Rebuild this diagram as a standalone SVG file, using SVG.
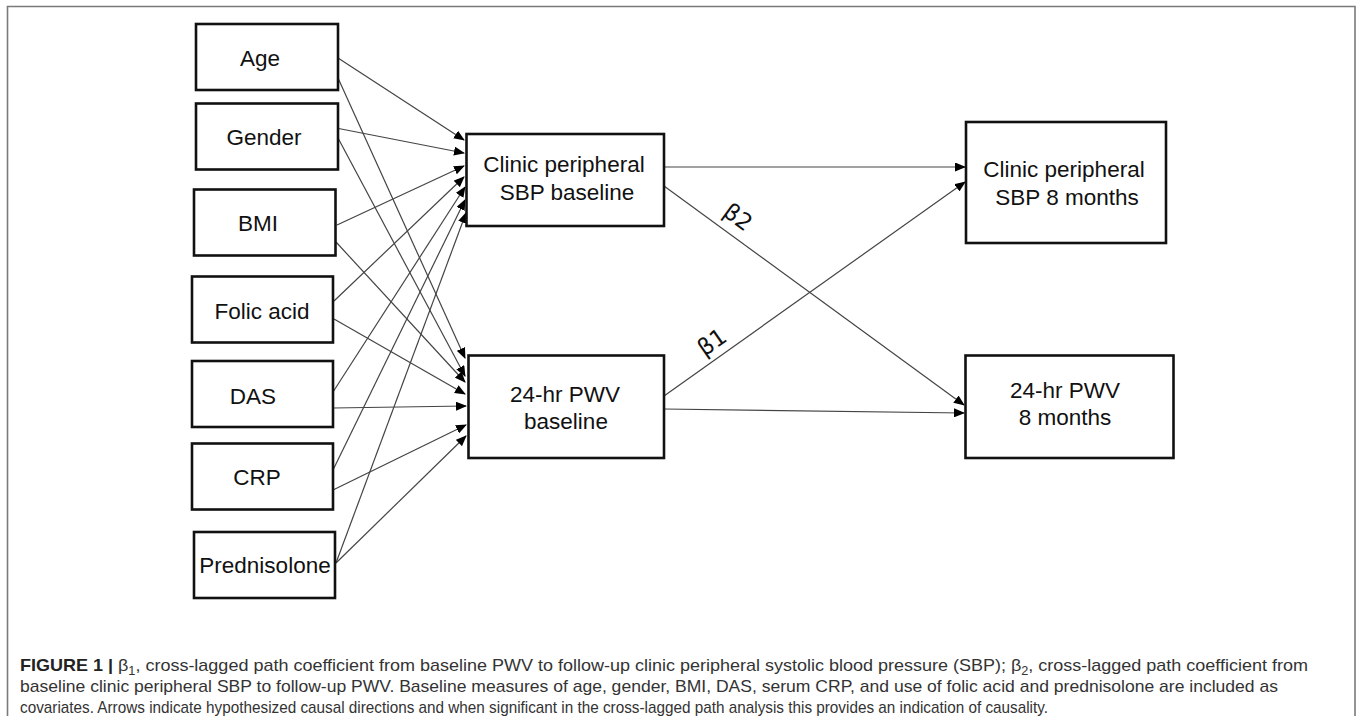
<svg xmlns="http://www.w3.org/2000/svg" width="1357" height="716" viewBox="0 0 1357 716">
<style>
.box{fill:#fff;stroke:#111;stroke-width:2.6}
.lbl{font-family:"Liberation Sans",Arial,sans-serif;font-size:22.5px;fill:#111;text-anchor:middle}
.beta{font-family:"DejaVu Sans","Liberation Sans",sans-serif;font-size:23px;fill:#111;text-anchor:middle}
.cap{font-family:"Liberation Sans Narrow","Liberation Sans",Arial,sans-serif;font-size:17px;fill:#333}
.edge{stroke:#444;stroke-width:1.2;fill:none;marker-end:url(#ah)}
.frame{stroke:#7a7a7a;stroke-width:1.6;fill:none}
</style>
<defs>
<marker id="ah" markerUnits="userSpaceOnUse" markerWidth="11" markerHeight="9" refX="10" refY="4.5" orient="auto">
<path d="M0,0 L11,4.5 L0,9 z" fill="#000"/>
</marker>
</defs>
<rect width="1357" height="716" fill="#fff"/>
<path class="frame" d="M7.5,716 V6.5 H1355 V716"/>

<g id="connectors">
<line class="edge" x1="338" y1="58" x2="464" y2="140"/>
<line class="edge" x1="338" y1="78" x2="465" y2="358"/>
<line class="edge" x1="336" y1="128" x2="464" y2="153"/>
<line class="edge" x1="338" y1="138" x2="465" y2="376"/>
<line class="edge" x1="337" y1="225" x2="464" y2="166"/>
<line class="edge" x1="336" y1="242" x2="465" y2="382"/>
<line class="edge" x1="334" y1="301" x2="464" y2="177"/>
<line class="edge" x1="334" y1="319" x2="465" y2="394"/>
<line class="edge" x1="333" y1="392" x2="465" y2="187"/>
<line class="edge" x1="333" y1="408" x2="466" y2="406"/>
<line class="edge" x1="333" y1="470" x2="465" y2="200"/>
<line class="edge" x1="333" y1="490" x2="466" y2="425"/>
<line class="edge" x1="336" y1="563" x2="466" y2="213"/>
<line class="edge" x1="336" y1="563" x2="466" y2="436"/>
<line class="edge" x1="664" y1="167" x2="965" y2="167"/>
<line class="edge" x1="664" y1="186" x2="964" y2="405"/>
<line class="edge" x1="664" y1="396" x2="965" y2="182"/>
<line class="edge" x1="664" y1="409" x2="964" y2="413"/>
<text class="beta" transform="translate(738,217) rotate(36)" y="8">β2</text>
<text class="beta" transform="translate(712,342) rotate(-35)" y="8">β1</text>
</g>

<g id="age"><rect class="box" x="196" y="24" width="142" height="66"/><text class="lbl" x="260" y="66">Age</text></g>
<g id="gender"><rect class="box" x="196" y="103.5" width="142" height="66"/><text class="lbl" x="264" y="145">Gender</text></g>
<g id="bmi"><rect class="box" x="194" y="189.5" width="141.5" height="66"/><text class="lbl" x="258" y="231">BMI</text></g>
<g id="folic"><rect class="box" x="192" y="276.5" width="141" height="66"/><text class="lbl" x="262" y="319">Folic acid</text></g>
<g id="das"><rect class="box" x="192" y="361" width="141" height="66"/><text class="lbl" x="253" y="404">DAS</text></g>
<g id="crp"><rect class="box" x="192" y="443.5" width="141" height="66"/><text class="lbl" x="257" y="485">CRP</text></g>
<g id="prednisolone"><rect class="box" x="194" y="532" width="141" height="66"/><text class="lbl" x="265" y="573">Prednisolone</text></g>

<g id="sbp-baseline"><rect class="box" x="466.5" y="134" width="197.5" height="92"/><text class="lbl" x="564" y="172">Clinic peripheral</text><text class="lbl" x="567" y="200">SBP baseline</text></g>
<g id="pwv-baseline"><rect class="box" x="468.5" y="355.5" width="195.5" height="102.5"/><text class="lbl" x="565" y="402">24-hr PWV</text><text class="lbl" x="566" y="429">baseline</text></g>
<g id="sbp-8m"><rect class="box" x="966" y="122" width="200" height="121"/><text class="lbl" x="1064" y="177">Clinic peripheral</text><text class="lbl" x="1067" y="205">SBP 8 months</text></g>
<g id="pwv-8m"><rect class="box" x="965.5" y="355.5" width="208" height="102.5"/><text class="lbl" x="1065" y="397.5">24-hr PWV</text><text class="lbl" x="1065" y="425">8 months</text></g>

<g id="caption">
<text class="cap" x="20" y="671" textLength="1288" lengthAdjust="spacingAndGlyphs"><tspan font-weight="bold" fill="#222">FIGURE 1 | </tspan>β<tspan font-size="12" dy="4">1</tspan><tspan dy="-4">, cross-lagged path coefficient from baseline PWV to follow-up clinic peripheral systolic blood pressure (SBP); β</tspan><tspan font-size="12" dy="4">2</tspan><tspan dy="-4">, cross-lagged path coefficient from</tspan></text>
<text class="cap" x="20" y="692" textLength="1258" lengthAdjust="spacingAndGlyphs">baseline clinic peripheral SBP to follow-up PWV. Baseline measures of age, gender, BMI, DAS, serum CRP, and use of folic acid and prednisolone are included as</text>
<text class="cap" x="20" y="713" textLength="1028" lengthAdjust="spacingAndGlyphs">covariates. Arrows indicate hypothesized causal directions and when significant in the cross-lagged path analysis this provides an indication of causality.</text>
</g>
</svg>
